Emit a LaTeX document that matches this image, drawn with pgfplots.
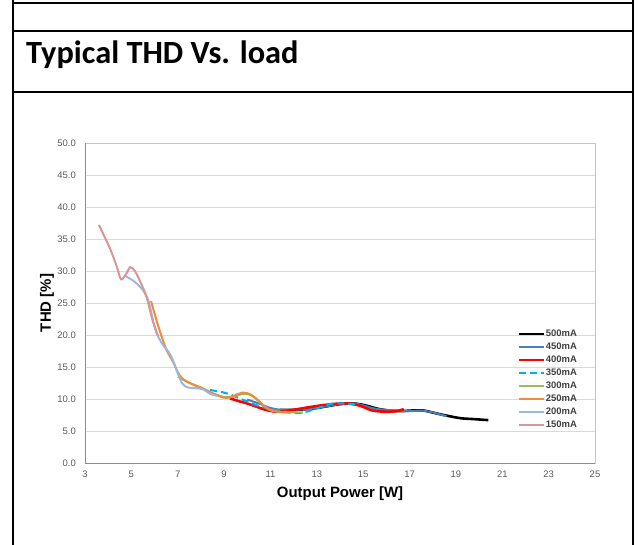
\documentclass[border=0pt]{standalone}
\usepackage{fontspec}
\setmainfont{Liberation Sans}
\newfontfamily\titlefont{Carlito}
\usepackage{pgfplots}
\pgfplotsset{compat=1.18}

\definecolor{c450}{HTML}{4A7EBB}
\definecolor{c400}{HTML}{FF0000}
\definecolor{c350}{HTML}{00B0F0}
\definecolor{c300}{HTML}{9BBB59}
\definecolor{c250}{HTML}{EE8B3E}
\definecolor{c200}{HTML}{9DB7DD}
\definecolor{c150}{HTML}{D99694}
\definecolor{tickgray}{HTML}{595959}
\definecolor{gridgray}{HTML}{D9D9D9}
\definecolor{axisgray}{HTML}{8C8C8C}
\definecolor{leggray}{HTML}{404040}

\begin{document}
\begin{tikzpicture}
\path[use as bounding box] (0bp,0bp) rectangle (638bp,-545bp);

% table frame round the chart
\begin{scope}[line width=2.6bp, black]
  \draw (13bp,0bp) -- (13bp,-545bp);
  \draw (633bp,0bp) -- (633bp,-545bp);
  \draw (13bp,-3bp) -- (633bp,-3bp);
  \draw (13bp,-31bp) -- (633bp,-31bp);
  \draw (13bp,-92bp) -- (633bp,-92bp);
\end{scope}
\node[anchor=base west, inner sep=0pt, font=\titlefont\bfseries\fontsize{32.5}{32.5}\selectfont]
  at (26bp,-63bp) {Typical THD Vs. load};

\begin{axis}[
  at={(85bp,-463bp)}, anchor=south west,
  scale only axis, width=510bp, height=320bp,
  xmin=3, xmax=25, ymin=0, ymax=50,
  xtick={3,5,...,25}, ytick={0,5,...,50},
  major tick length=0pt,
  ymajorgrids, grid style={draw=gridgray, line width=0.8bp},
  axis line style={draw=gridgray!80!gray, line width=0.8bp},
  /pgf/number format/assume math mode=true,
  tick label style={font=\fontsize{9.5}{9.5}\selectfont, text=tickgray, inner sep=0pt},
  yticklabel style={/pgf/number format/fixed, /pgf/number format/fixed zerofill,
    /pgf/number format/precision=1, xshift=-9bp},
  xticklabel style={yshift=-8bp},
  xlabel={Output Power [W]}, ylabel={THD [\%]},
  label style={font=\bfseries\fontsize{15}{15}\selectfont, inner sep=0pt},
  xlabel style={at={(rel axis cs:0.5,-0.109)}, anchor=base},
  ylabel style={at={(rel axis cs:-0.0667,0.5)}, anchor=base},
  legend style={at={(rel axis cs:0.849,0.425)}, anchor=north west,
    draw=none, fill=none, inner sep=0pt, row sep=0pt,
    font=\bfseries\fontsize{9.5}{9.5}\selectfont,
    nodes={inner xsep=0.5bp, inner ysep=0pt, minimum height=13bp, text=leggray}},
  legend cell align=left,
  legend image code/.code={\draw[#1, line width=2.2bp] (0bp,0bp) -- (25bp,0bp);},
  every axis plot/.append style={smooth, tension=0.5, no markers},
  after end axis/.code={
    \draw[axisgray, line width=0.9bp] (rel axis cs:0,1) -- (rel axis cs:0,0) -- (rel axis cs:1,0);
  },
]
\addplot[black, line width=2.6bp] coordinates {
 (11.4,8.3) (12.0,8.3) (12.5,8.4) (13.0,8.6) (13.5,8.9) (14.0,9.2) (14.6,9.3)
 (15.1,9.0) (15.6,8.5) (16.1,8.2) (16.6,8.1) (17.1,8.2) (17.6,8.2) (18.1,7.8)
 (18.6,7.4) (19.2,7.0) (19.8,6.85) (20.4,6.7)};
\addlegendentry{500mA}
\addplot[c450, line width=2bp] coordinates {
 (10.0,9.9) (10.5,9.3) (11.0,8.6) (11.5,8.3) (12.0,8.3) (12.5,8.4) (13.0,8.6)
 (13.5,8.9) (14.0,9.2) (14.6,9.3) (15.0,9.0) (15.5,8.5) (16.0,8.3) (16.5,8.2)
 (17.0,8.1) (17.5,8.2) (18.0,7.9) (18.6,7.3)};
\addlegendentry{450mA}
\addplot[c400, line width=2.6bp] coordinates {
 (9.25,10.1) (9.6,9.7) (10.0,9.3) (10.4,8.8) (10.8,8.3) (11.3,8.0) (11.8,8.2)
 (12.3,8.5) (12.8,8.8) (13.4,9.1) (14.0,9.3) (14.4,9.3) (14.9,8.9) (15.4,8.2)
 (16.0,8.0) (16.4,8.1) (16.75,8.4)};
\addlegendentry{400mA}
\addplot[c350, line width=2.1bp, dash pattern=on 7bp off 4bp] coordinates {
 (8.4,11.4) (9.1,10.9) (9.8,9.9) (10.5,8.9) (11.2,8.3) (11.8,7.9) (12.3,7.8)
 (12.8,8.3) (13.3,8.9) (13.7,9.3) (14.2,9.3) (14.8,9.1)};
\addlegendentry{350mA}
\addplot[c300, line width=2bp] coordinates {
 (7.0,13.5) (7.3,12.9) (7.7,12.2) (8.1,11.6) (8.5,10.9) (9.0,10.3) (9.4,10.4)
 (9.7,10.7) (10.0,10.8) (10.3,10.3) (10.6,9.3) (10.9,8.4) (11.3,8.0) (11.8,7.9)
 (12.4,7.9)};
\addlegendentry{300mA}
\addplot[c250, line width=2bp] coordinates {
 (5.85,25.3) (6.15,21.5) (6.5,17.8) (6.8,15.8) (7.0,14.2) (7.2,13.2) (7.5,12.5)
 (8.0,11.8) (8.5,10.9) (9.0,10.2) (9.3,10.3) (9.6,10.8) (9.8,11.0) (10.1,10.8)
 (10.4,10.0) (10.7,9.0) (11.0,8.3) (11.4,8.0) (11.8,7.9)};
\addlegendentry{250mA}
\addplot[c200, line width=2bp] coordinates {
 (4.75,29.2) (5.15,28.3) (5.5,27.0) (5.75,25.2) (5.95,22.0) (6.1,20.2) (6.35,18.5)
 (6.6,17.4) (6.8,16.0) (6.95,14.5) (7.2,12.4) (7.45,11.8) (7.8,11.7) (8.1,11.5)
 (8.4,10.8) (8.7,10.5)};
\addlegendentry{200mA}
\addplot[c150, line width=2bp] coordinates {
 (3.6,37.2) (4.08,33.5) (4.37,30.7) (4.55,28.7) (4.75,29.4) (4.95,30.6) (5.15,30.0)
 (5.4,28.2) (5.65,26.0) (5.9,22.5) (6.15,19.8)};
\addlegendentry{150mA}
\end{axis}
\end{tikzpicture}
\end{document}
